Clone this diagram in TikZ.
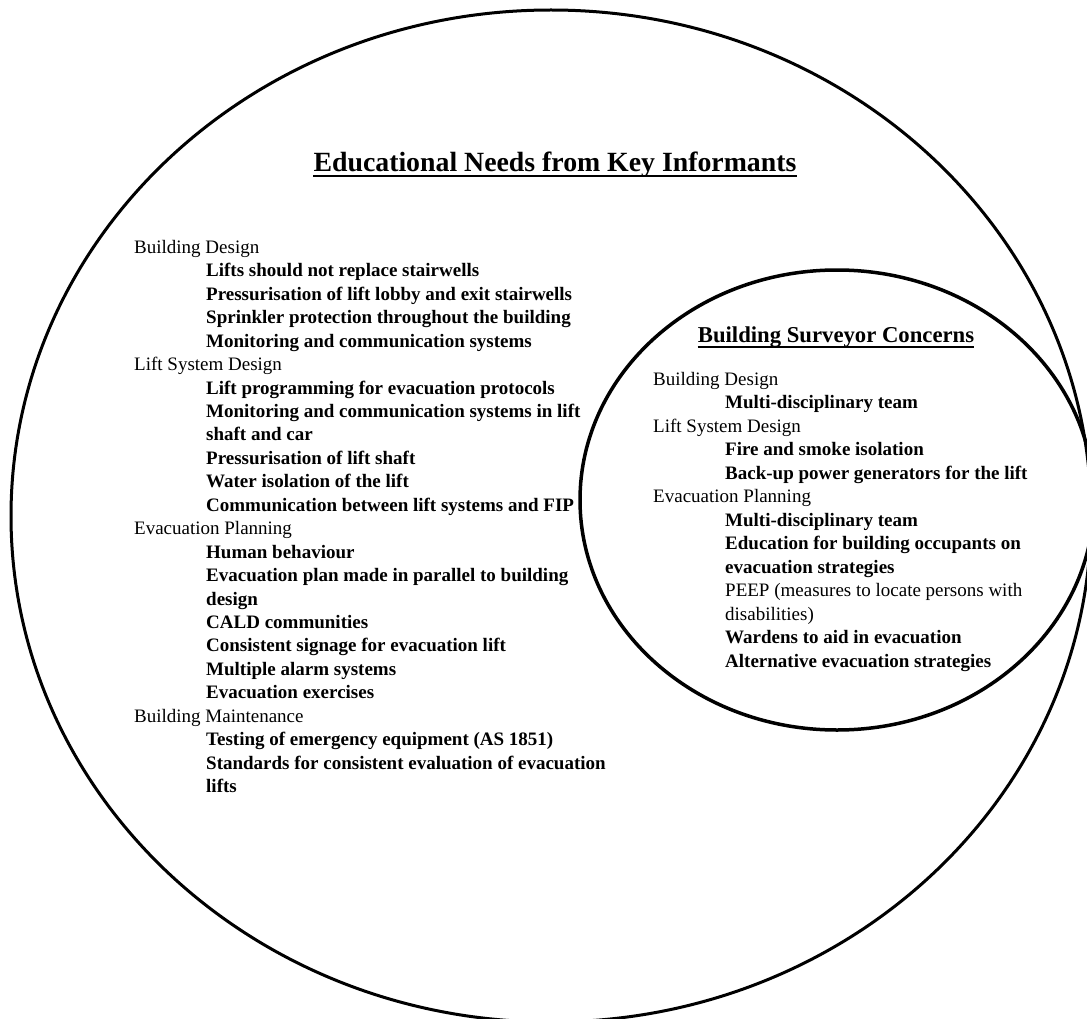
\documentclass[tikz,border=0pt]{standalone}
\usepackage{fontspec}
\setmainfont{Liberation Serif}
\usetikzlibrary{positioning}

\tikzset{
  rowtext/.style={anchor=base west, inner sep=0pt, font=\fontsize{19}{23.5}\selectfont},
  headtext/.style={anchor=base, inner sep=0pt, font=\fontsize{27.8}{30}\selectfont\bfseries},
  ring/.style={line width=3pt}
}
\newcommand{\bolditem}[1]{\hspace*{72pt}\textbf{#1}}
\newcommand{\regitem}[1]{\hspace*{72pt}#1}

\begin{document}
\begin{tikzpicture}[x=1pt, y=-1pt]
\useasboundingbox (0,0) rectangle (1087,1019);
% the two circles
\draw[ring] (551,516) ellipse [x radius=540pt, y radius=506pt];
\draw[ring, line width=3.5pt] (837,500) ellipse [x radius=257pt, y radius=230pt];

% headings
\node[headtext] (needs) at (555,171.7) {Educational Needs from Key Informants};
\draw[line width=2pt] ([yshift=-4pt]needs.base west) -- ([yshift=-4pt]needs.base east);
\node[headtext, font=\fontsize{22.7}{26}\selectfont\bfseries] (concerns) at (836,342.7) {Building Surveyor Concerns};
\draw[line width=1.8pt] ([yshift=-4pt]concerns.base west) -- ([yshift=-4pt]concerns.base east);

% key informants
\foreach \t [count=\i from 0] in {Building Design,
    \bolditem{Lifts should not replace stairwells},
    \bolditem{Pressurisation of lift lobby and exit stairwells},
    \bolditem{Sprinkler protection throughout the building},
    \bolditem{Monitoring and communication systems},
    Lift System Design,
    \bolditem{Lift programming for evacuation protocols},
    \bolditem{Monitoring and communication systems in lift},
    \bolditem{shaft and car},
    \bolditem{Pressurisation of lift shaft},
    \bolditem{Water isolation of the lift},
    \bolditem{Communication between lift systems and FIP},
    Evacuation Planning,
    \bolditem{Human behaviour},
    \bolditem{Evacuation plan made in parallel to building},
    \bolditem{design},
    \bolditem{CALD communities},
    \bolditem{Consistent signage for evacuation lift},
    \bolditem{Multiple alarm systems},
    \bolditem{Evacuation exercises},
    Building Maintenance,
    \bolditem{Testing of emergency equipment (AS 1851)},
    \bolditem{Standards for consistent evaluation of evacuation},
    \bolditem{lifts}}
  \node[rowtext] (need\i) at (134,253.3+23.45*\i) {\t};

% building surveyors
\foreach \t [count=\i from 0] in {Building Design,
    \bolditem{Multi-disciplinary team},
    Lift System Design,
    \bolditem{Fire and smoke isolation},
    \bolditem{Back-up power generators for the lift},
    Evacuation Planning,
    \bolditem{Multi-disciplinary team},
    \bolditem{Education for building occupants on},
    \bolditem{evacuation strategies},
    \regitem{PEEP (measures to locate persons with},
    \regitem{disabilities)},
    \bolditem{Wardens to aid in evacuation},
    \bolditem{Alternative evacuation strategies}}
  \node[rowtext] (worry\i) at (653,385+23.5*\i) {\t};
\end{tikzpicture}
\end{document}
